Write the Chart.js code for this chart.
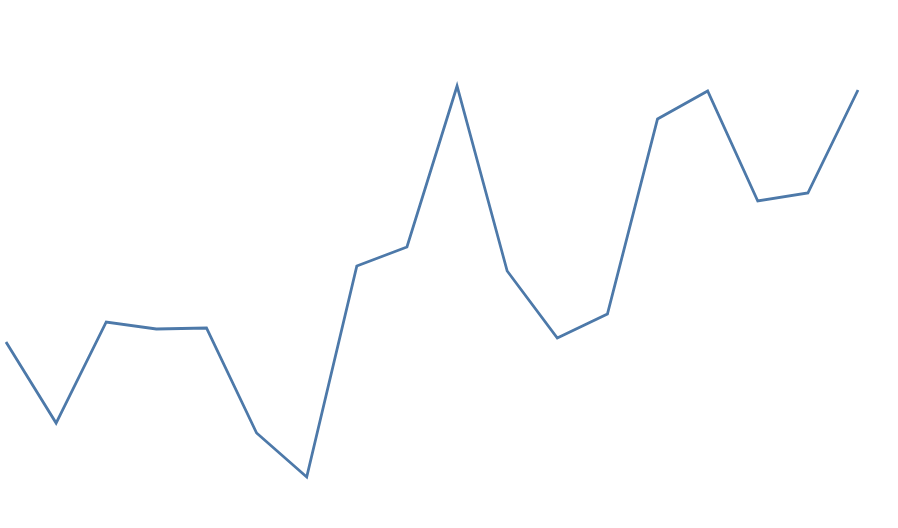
<!DOCTYPE html>
<html>
<head>
<meta charset="utf-8">
<script src="https://cdn.jsdelivr.net/npm/chart.js@4"></script>
<style>
  html, body { margin: 0; padding: 0; background: #fff; }
  #wrap { width: 898px; height: 528px; }
</style>
</head>
<body>
<div id="wrap"><canvas id="myChart" width="898" height="528"></canvas></div>
<script>
let labels = ["1", "2", "3", "4", "5", "6", "7", "8", "9", "10", "11", "12", "13", "14", "15", "16", "17", "18"];
let values = [186, 105, 206, 199, 200, 95, 51, 262, 281, 442, 257, 190, 214, 409, 437, 327, 335, 438];

let yMin = 0;
let yMax = 528;

function createChart()
{
    new Chart(document.getElementById('myChart'),
        {
            type: 'line',
            data:
            {
                labels: labels,
                datasets: [{
                    data: values,
                    borderColor: '#4d79a9',
                    borderWidth: 2.8,
                    pointRadius: 0,
                    tension: 0,
                    fill: false
                }]
            },
            options:
            {
                responsive: false,
                animation: false,
                layout: { padding: { left: 6, right: 40, top: 0, bottom: 0 } },
                plugins: {
                    legend: { display: false },
                    tooltip: { enabled: false }
                },
                scales: {
                    x: { display: false, offset: false },
                    y: { display: false, min: yMin, max: yMax }
                }
            }
        }
    );
}

createChart();
</script>
</body>
</html>
